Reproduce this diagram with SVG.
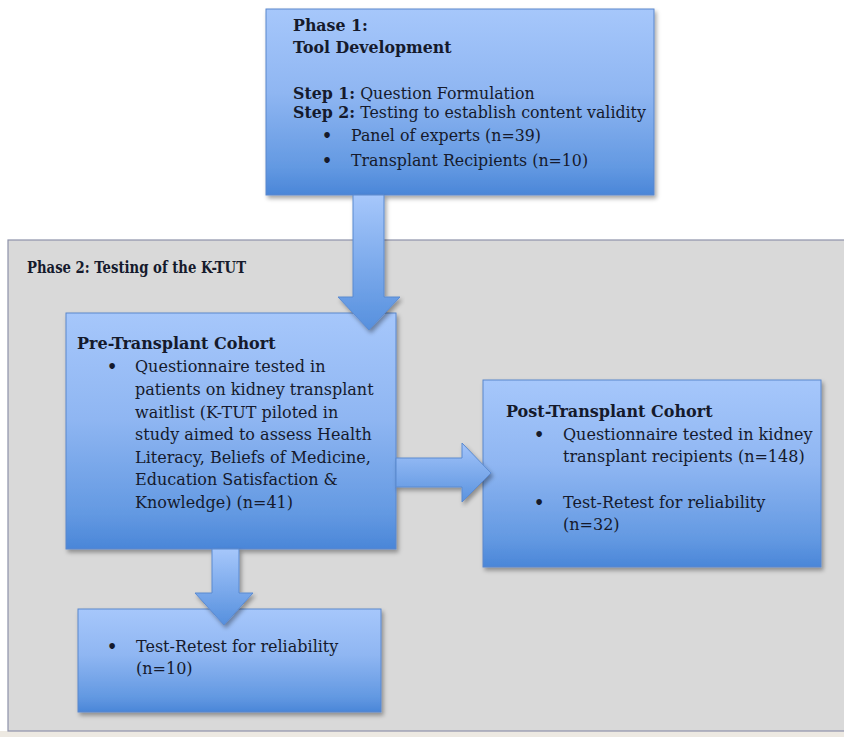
<svg xmlns="http://www.w3.org/2000/svg" width="844" height="737" viewBox="0 0 844 737">
<defs>
<linearGradient id="boxg" x1="0" y1="0" x2="0" y2="1">
<stop offset="0" stop-color="#a6c7fb"/>
<stop offset="0.45" stop-color="#8fb6f2"/>
<stop offset="0.85" stop-color="#6399e2"/>
<stop offset="1" stop-color="#4a86d8"/>
</linearGradient>
<linearGradient id="arrv" x1="0" y1="0" x2="0" y2="1">
<stop offset="0" stop-color="#a6c7fb"/>
<stop offset="1" stop-color="#5690de"/>
</linearGradient>
<linearGradient id="arrh" x1="0" y1="0" x2="0" y2="1">
<stop offset="0" stop-color="#a3c4fa"/>
<stop offset="1" stop-color="#5a93df"/>
</linearGradient>
<filter id="sh" x="-5%" y="-5%" width="112%" height="115%">
<feDropShadow dx="2" dy="3" stdDeviation="2" flood-color="#000" flood-opacity="0.35"/>
</filter>
</defs>
<style>
.box{fill:url(#boxg);stroke:#5b87cc;stroke-width:1;filter:url(#sh)}
.t{font-family:"DejaVu Serif","Liberation Serif",serif;fill:#151a2c}
.b{font-weight:bold}
.s16{font-size:16px}
.s15{font-size:15.8px}
.arr{stroke:#5b8ad0;stroke-width:1;filter:url(#sh)}
</style>
<rect x="0" y="0" width="844" height="737" fill="#ffffff"/>
<g id="phase2-panel">
<rect x="0" y="731" width="844" height="6" fill="#ede9e2"/>
<rect x="8" y="240" width="846" height="491" fill="#d9d9d9" stroke="#8e92aa" stroke-width="1.2"/>
<text class="t b" x="27" y="273" font-size="16" textLength="219" lengthAdjust="spacingAndGlyphs">Phase 2: Testing of the K-TUT</text>
</g>
<g id="phase1">
<rect class="box" x="266" y="9" width="388" height="186"/>
<text class="t b s15" x="293" y="31">Phase 1:</text>
<text class="t b s15" x="293" y="53">Tool Development</text>
<text class="t s15" x="293" y="99"><tspan class="b">Step 1:</tspan> Question Formulation</text>
<text class="t s15" x="293" y="118"><tspan class="b">Step 2:</tspan> Testing to establish content validity</text>
<text class="t b s15" x="322" y="141">•</text>
<text class="t s15" x="351" y="141">Panel of experts (n=39)</text>
<text class="t b s15" x="322" y="166">•</text>
<text class="t s15" x="351" y="166">Transplant Recipients (n=10)</text>
</g>
<g id="pre">
<rect class="box" x="66" y="313" width="330" height="236"/>
<text class="t b s16" x="77" y="349">Pre-Transplant Cohort</text>
<text class="t b s16" x="107" y="372">•</text>
<text class="t s16" x="135" y="372">Questionnaire tested in</text>
<text class="t s16" x="135" y="395">patients on kidney transplant</text>
<text class="t s16" x="135" y="418">waitlist (K-TUT piloted in</text>
<text class="t s16" x="135" y="440">study aimed to assess Health</text>
<text class="t s16" x="135" y="463">Literacy, Beliefs of Medicine,</text>
<text class="t s16" x="135" y="485">Education Satisfaction &amp;</text>
<text class="t s16" x="135" y="508">Knowledge) (n=41)</text>
</g>
<g id="post">
<rect class="box" x="483" y="380" width="338" height="187"/>
<text class="t b s16" x="506" y="417">Post-Transplant Cohort</text>
<text class="t b s16" x="534" y="440">•</text>
<text class="t s16" x="563" y="440">Questionnaire tested in kidney</text>
<text class="t s16" x="563" y="462">transplant recipients (n=148)</text>
<text class="t b s16" x="534" y="508">•</text>
<text class="t s16" x="563" y="508">Test-Retest for reliability</text>
<text class="t s16" x="563" y="530">(n=32)</text>
</g>
<g id="retest">
<rect class="box" x="78" y="609" width="303" height="103"/>
<text class="t b s16" x="107" y="652">•</text>
<text class="t s16" x="136" y="652">Test-Retest for reliability</text>
<text class="t s16" x="136" y="674">(n=10)</text>
</g>
<g id="connectors">
<polygon class="arr" fill="url(#arrv)" points="353,195 384,195 384,297 400,297 369,330 338,297 353,297"/>
<polygon class="arr" fill="url(#arrh)" points="396,458 462,458 462,443 491,473 462,502 462,487 396,487"/>
<polygon class="arr" fill="url(#arrv)" points="212,549 239,549 239,593 253,593 224,625 195,593 212,593"/>
</g>
</svg>
